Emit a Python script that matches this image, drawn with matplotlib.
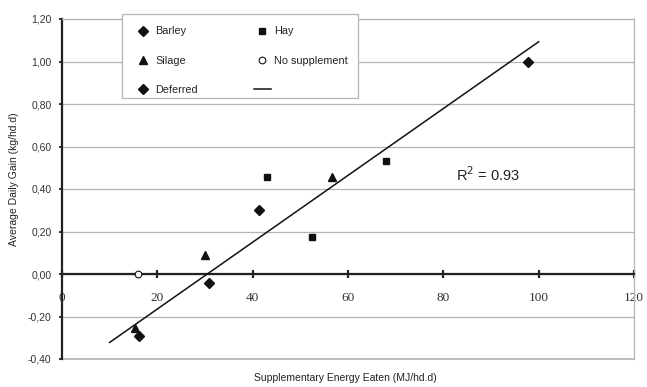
import matplotlib
matplotlib.use("Agg")
import matplotlib.pyplot as plt
from matplotlib.ticker import FuncFormatter
from matplotlib.patches import Rectangle

# ---- data ----
barley_x = [30.9, 41.3, 97.8]
barley_y = [-0.04, 0.30, 1.00]
hay_x = [43.1, 52.4, 67.9]
hay_y = [0.455, 0.175, 0.53]
silage_x = [15.3, 30.0, 56.7]
silage_y = [-0.255, 0.09, 0.458]
nosupp_x = [15.9]
nosupp_y = [0.0]
deferred_x = [16.2]
deferred_y = [-0.29]
trend_x = [10, 100]
trend_y = [-0.322, 1.093]
r2_text = "R$^2$ = 0.93"
x_ticks = [0, 20, 40, 60, 80, 100, 120]
y_ticks = [-0.4, -0.2, 0.0, 0.2, 0.4, 0.6, 0.8, 1.0, 1.2]

plt.rcParams['font.family'] = ['Liberation Sans', 'DejaVu Sans']

W, H = 647, 387
fig = plt.figure(figsize=(W / 100, H / 100), dpi=100)
ax = fig.add_axes([62 / W, 1 - 359 / H, (634 - 62) / W, (359 - 19) / H])

ax.set_xlim(0, 120)
ax.set_ylim(-0.4, 1.2)

grey = '#b4b4b4'
for sp in ('top', 'right'):
    ax.spines[sp].set_color(grey)
    ax.spines[sp].set_linewidth(0.9)
ax.spines['bottom'].set_position(('data', 0))
ax.spines['bottom'].set_linewidth(1.6)
ax.spines['bottom'].set_color('#222222')
ax.spines['left'].set_linewidth(1.6)
ax.spines['left'].set_color('#222222')
ax.spines['bottom'].set_zorder(3)

ax.set_yticks(y_ticks)
ax.yaxis.set_major_formatter(FuncFormatter(lambda v, p: f"{v:.2f}".replace('.', ',')))
ax.set_xticks(x_ticks)
ax.tick_params(axis='y', direction='out', length=2.5, width=1.3, pad=5,
               labelsize=7.5, colors='#222222', labelcolor='#333333')
ax.tick_params(axis='x', direction='inout', length=6, width=1.6, pad=10,
               labelsize=9.5, colors='#222222', labelcolor='#333333')
for lab in ax.get_xticklabels():
    lab.set_family(['Liberation Serif', 'DejaVu Serif'])

ax.yaxis.grid(True, color=grey, linewidth=0.9)
ax.set_axisbelow(True)
ax.axhline(-0.4, color=grey, linewidth=1.2, clip_on=False, zorder=0)

# trend line
tl, = ax.plot(trend_x, trend_y, color='#111111', linewidth=1.1, zorder=4)

b, = ax.plot(barley_x, barley_y, 'D', color='#111111', ms=5.3, ls='none', zorder=5)
h, = ax.plot(hay_x, hay_y, 's', color='#111111', ms=4.6, ls='none', zorder=5)
s, = ax.plot(silage_x, silage_y, '^', color='#111111', ms=6.2, ls='none', zorder=5)
n, = ax.plot(nosupp_x, nosupp_y, 'o', mfc='white', mec='#111111', mew=0.8,
             ms=4.8, ls='none', zorder=6, clip_on=False)
d, = ax.plot(deferred_x, deferred_y, 'D', color='#111111', ms=5.3, ls='none', zorder=5)

ax.text(82.6, 0.466, r2_text, fontsize=10.5, color='#222222', va='center', ha='left')

ax.set_xlabel("Supplementary Energy Eaten (MJ/hd.d)", fontsize=7.5, color='#222222')
ax.xaxis.set_label_coords(0.495, -0.04)
ax.set_ylabel("Average Daily Gain (kg/hd.d)", fontsize=7.5, color='#222222')
ax.yaxis.set_label_coords(-0.076, 0.53)

# legend frame (drawn separately to match reference box)
fig.patches.append(Rectangle((121.7 / W, 1 - 98.3 / H), (358.3 - 121.7) / W,
                             (98.3 - 14.3) / H, transform=fig.transFigure,
                             facecolor='white', edgecolor=grey, linewidth=0.9,
                             zorder=5))

leg = fig.legend([b, s, d, h, n, tl],
                 ["Barley", "Silage", "Deferred", "Hay", "No supplement", ""],
                 ncol=2, loc='upper left',
                 bbox_to_anchor=(134.5 / W, 1 - 26.5 / H),
                 fontsize=7.8, frameon=False, borderpad=0, labelspacing=1.77,
                 handlelength=1.6, handletextpad=0.3, columnspacing=5.15,
                 borderaxespad=0)
leg.set_zorder(6)
for t in leg.get_texts():
    t.set_color('#222222')

fig.savefig("out.png", dpi=100, facecolor='white')
